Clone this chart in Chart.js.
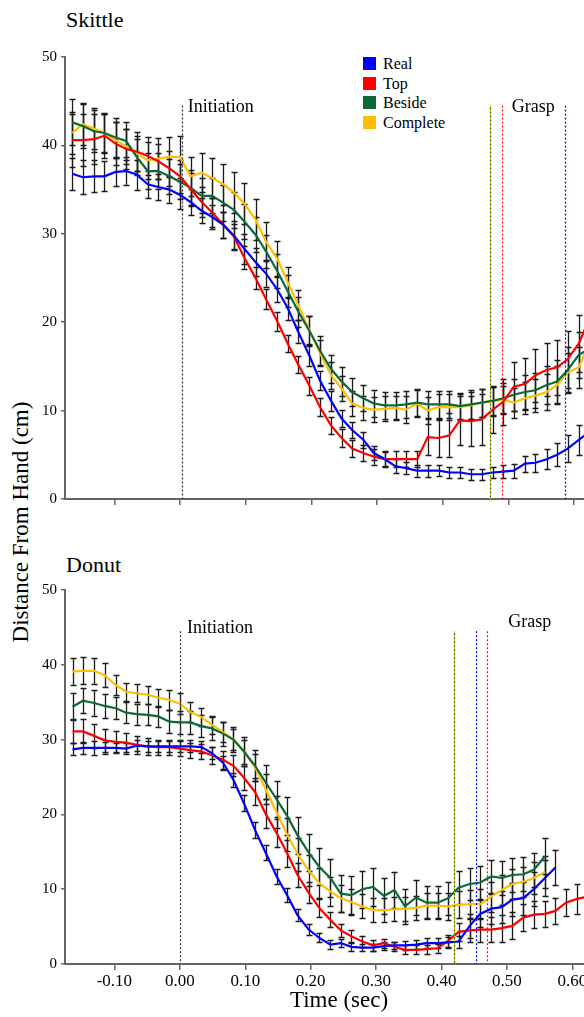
<!DOCTYPE html>
<html>
<head>
<meta charset="utf-8">
<script src="https://cdn.jsdelivr.net/npm/chart.js@4.4.1/dist/chart.umd.min.js"></script>
<style>
  body { margin: 0; width: 584px; height: 1017px; overflow: hidden; background: #fff; position: relative;
         font-family: "Liberation Serif", "Times New Roman", serif; color: #000; }
  canvas { position: absolute; left: 0; }
  .title { position: absolute; left: 66px; font-size: 22px; line-height: 26px; }
  .ylab { position: absolute; left: 21px; top: 522px; font-size: 23px; white-space: nowrap;
          transform: translate(-50%, -50%) rotate(-90deg); }
  #legend { position: absolute; left: 363px; top: 54px; font-size: 16px; line-height: 19.5px; }
  #legend div { display: flex; align-items: center; }
  #legend span { display: inline-block; width: 13px; height: 13px; margin-right: 7px; }
</style>
</head>
<body>
<div class="title" style="top:7px">Skittle</div>
<div class="title" style="top:552px">Donut</div>
<div class="ylab">Distance From Hand (cm)</div>
<div id="legend"></div>
<canvas id="skittle" width="640" height="530" style="top:0"></canvas>
<canvas id="donut" width="640" height="487" style="top:530px"></canvas>
<script>
// time of each frame (sec)
const times = [-0.164, -0.148, -0.131, -0.115, -0.098, -0.082, -0.066, -0.049, -0.033, -0.016,
  0.000, 0.016, 0.033, 0.049, 0.066, 0.082, 0.098, 0.115, 0.131, 0.148,
  0.164, 0.180, 0.197, 0.213, 0.230, 0.246, 0.262, 0.279, 0.295, 0.312,
  0.328, 0.344, 0.361, 0.377, 0.394, 0.410, 0.426, 0.443, 0.459, 0.476,
  0.492, 0.508, 0.525, 0.541, 0.558, 0.574, 0.590, 0.607, 0.623];

const seriesNames = ["Real", "Top", "Beside", "Complete"];
const seriesColors = ["#0000ff", "#ff0000", "#0b6a35", "#ffbf00"];
const xTickValues = [-0.1, 0, 0.1, 0.2, 0.3, 0.4, 0.5, 0.6];
const yTickStep = 10;

// Skittle
const skittleReal = [36.8, 36.4, 36.5, 36.5, 37.0, 37.1, 36.7, 35.6, 35.3, 35.0,
  34.4, 33.6, 32.6, 31.9, 31.0, 29.8, 28.3, 26.8, 25.5, 23.7,
  21.6, 18.9, 16.2, 13.4, 11.1, 9.1, 7.8, 6.7, 5.2, 4.5,
  3.7, 3.5, 3.2, 3.2, 3.2, 3.0, 3.0, 2.8, 2.8, 3.0,
  3.1, 3.2, 4.0, 4.1, 4.5, 5.0, 5.7, 6.7, 7.6];
const skittleTop = [40.6, 40.6, 40.7, 41.1, 40.2, 39.6, 39.3, 38.8, 38.2, 37.4,
  36.5, 35.1, 33.6, 32.4, 31.0, 29.7, 27.3, 25.0, 22.6, 20.1,
  17.6, 15.2, 12.8, 10.4, 8.3, 6.9, 5.7, 5.2, 4.8, 4.5,
  4.5, 4.5, 4.5, 7.0, 6.9, 7.2, 8.9, 8.8, 9.0, 10.1,
  11.0, 12.7, 13.0, 14.0, 14.6, 14.9, 15.8, 17.6, 20.4];
const skittleBeside = [42.6, 42.2, 41.6, 41.4, 40.9, 40.5, 38.7, 37.1, 37.1, 36.5,
  35.9, 35.2, 34.3, 34.3, 33.5, 32.7, 31.4, 29.9, 28.0, 25.8,
  23.5, 21.2, 19.0, 16.8, 14.7, 13.3, 12.1, 11.4, 10.8, 10.6,
  10.6, 10.7, 10.9, 10.7, 10.7, 10.7, 10.5, 10.7, 10.9, 11.1,
  11.4, 11.8, 12.1, 12.3, 12.9, 13.3, 14.6, 16.3, 17.0];
const skittleComplete = [41.4, 42.4, 41.9, 41.4, 40.6, 39.9, 39.1, 38.3, 38.5, 38.7,
  38.7, 36.5, 36.9, 36.3, 35.6, 34.7, 33.4, 31.6, 29.1, 27.2,
  24.5, 21.9, 19.1, 16.5, 14.0, 12.5, 10.8, 10.3, 10.1, 10.2,
  10.3, 10.1, 10.8, 10.0, 10.4, 10.4, 10.4, 10.6, 10.9, 11.1,
  11.2, 10.9, 11.4, 11.7, 12.1, 12.9, 14.3, 14.9, 17.6];

const skittleRealErr = [1.8, 1.9, 1.8, 1.7, 1.6, 1.6, 1.7, 1.5, 1.5, 1.5,
  1.6, 1.5, 1.4, 1.4, 1.5, 1.6, 1.7, 1.6, 1.5, 1.4,
  1.3, 1.3, 1.2, 1.1, 1.1, 1.0, 0.9, 0.9, 0.8, 0.8,
  0.8, 0.7, 0.7, 0.7, 0.6, 0.6, 0.6, 0.6, 0.6, 0.6,
  0.7, 0.8, 0.9, 1.0, 1.1, 1.3, 1.5, 1.7, 1.8];
const skittleTopErr = [3.0, 2.9, 2.8, 2.5, 2.4, 2.3, 2.2, 2.1, 2.0, 2.0,
  1.9, 1.8, 1.7, 1.6, 1.5, 1.4, 1.3, 1.2, 1.1, 1.1,
  1.0, 1.0, 1.0, 1.0, 1.0, 1.0, 1.0, 0.9, 0.9, 0.9,
  0.9, 0.9, 0.9, 2.0, 2.2, 2.5, 2.8, 2.8, 2.9, 2.6,
  2.6, 2.8, 2.9, 3.0, 3.0, 3.1, 3.2, 3.2, 3.3];
const skittleBesideErr = [2.6, 2.5, 2.4, 2.3, 2.2, 2.1, 2.0, 2.0, 2.0, 2.0,
  2.0, 2.0, 2.0, 2.0, 2.0, 2.0, 2.0, 2.0, 1.9, 1.9,
  1.8, 1.7, 1.7, 1.6, 1.6, 1.6, 1.6, 1.5, 1.5, 1.5,
  1.5, 1.5, 1.5, 1.5, 1.5, 1.5, 1.5, 1.6, 1.6, 1.7,
  1.7, 1.8, 1.9, 2.0, 2.2, 2.4, 2.6, 2.6, 2.7];
const skittleCompleteErr = [2.4, 2.4, 2.3, 2.2, 2.0, 2.0, 2.0, 2.1, 2.3, 2.3,
  2.4, 2.2, 2.2, 2.3, 2.3, 2.3, 2.3, 2.3, 2.2, 2.0,
  1.8, 1.7, 1.6, 1.5, 1.5, 1.4, 1.4, 1.4, 1.4, 1.4,
  1.4, 1.5, 1.5, 1.5, 1.5, 1.5, 1.5, 1.5, 1.6, 1.6,
  1.6, 1.7, 1.8, 1.9, 2.0, 2.1, 2.2, 2.3, 2.4];

// Donut
const donutReal = [28.7, 28.9, 28.9, 28.9, 28.9, 28.8, 29.2, 29.1, 29.1, 29.1,
  29.1, 29.1, 29.0, 28.2, 26.9, 24.6, 21.5, 17.9, 14.9, 11.7,
  9.2, 6.5, 4.6, 3.5, 2.6, 2.8, 2.3, 2.2, 2.2, 2.4,
  2.5, 2.5, 2.6, 2.8, 2.8, 2.9, 3.0, 5.1, 6.7, 7.4,
  7.6, 8.6, 8.8, 10.0, 11.5, 12.9, null, null, null];
const donutTop = [31.1, 31.1, 30.5, 29.9, 29.7, 29.6, 29.3, 29.1, 29.0, 29.0,
  28.8, 28.6, 28.4, 27.9, 27.3, 26.5, 24.9, 23.0, 20.1, 17.5,
  14.8, 11.9, 9.5, 7.5, 5.9, 4.5, 3.7, 3.0, 2.5, 2.8,
  2.3, 1.9, 1.9, 2.0, 2.1, 3.1, 4.3, 4.5, 4.6, 4.6,
  4.8, 5.1, 6.2, 6.6, 6.7, 7.1, 8.2, 8.7, 9.0];
const donutBeside = [34.4, 35.2, 34.9, 34.5, 34.2, 33.6, 33.4, 33.3, 33.1, 32.4,
  32.3, 32.3, 31.8, 31.5, 30.8, 30.0, 28.4, 26.5, 24.3, 22.0,
  19.8, 17.2, 14.9, 13.0, 11.5, 9.4, 9.2, 10.0, 10.3, 9.1,
  9.9, 7.7, 8.9, 8.2, 8.2, 8.8, 10.2, 10.7, 10.9, 11.7,
  11.5, 11.9, 12.0, 12.6, 14.4, null, null, null, null];
const donutComplete = [39.1, 39.2, 39.2, 38.6, 37.3, 36.4, 36.2, 36.0, 35.6, 35.3,
  34.8, 33.7, 33.0, 32.0, 31.0, 30.0, 28.4, 26.3, 23.4, 20.3,
  17.3, 14.7, 12.5, 10.8, 9.7, 8.8, 8.3, 7.7, 7.2, 7.2,
  7.3, 7.4, 7.5, 7.8, 7.8, 7.7, 7.9, 8.0, 8.0, 9.0,
  9.9, 10.7, 11.0, 11.5, 12.3, null, null, null, null];

const donutRealErr = [0.8, 0.8, 0.9, 0.8, 0.7, 0.7, 0.7, 0.7, 0.7, 0.7,
  0.8, 0.8, 0.8, 0.8, 0.9, 1.0, 1.1, 1.1, 1.0, 1.0,
  0.9, 0.8, 0.7, 0.6, 0.6, 0.5, 0.5, 0.5, 0.5, 0.5,
  0.5, 0.6, 0.6, 0.7, 0.7, 0.7, 0.8, 1.6, 1.8, 2.0,
  2.1, 2.2, 2.2, 2.3, 2.4, 2.4, null, null, null];
const donutTopErr = [1.6, 1.6, 1.6, 1.5, 1.4, 1.3, 1.2, 1.1, 1.0, 1.0,
  1.0, 1.0, 1.0, 1.1, 1.2, 1.4, 1.6, 1.8, 1.9, 1.9,
  1.8, 1.6, 1.4, 1.2, 1.0, 0.9, 0.8, 0.7, 0.7, 0.6,
  0.6, 0.6, 0.6, 0.6, 0.6, 0.8, 1.2, 1.5, 1.6, 1.7,
  1.8, 1.8, 1.8, 1.8, 1.7, 1.7, 1.8, 2.0, 2.0];
const donutBesideErr = [1.8, 1.7, 1.7, 1.6, 1.5, 1.4, 1.4, 1.4, 1.4, 1.5,
  1.5, 1.5, 1.5, 1.5, 1.6, 1.7, 1.9, 2.1, 2.3, 2.4,
  2.5, 2.5, 2.5, 2.5, 2.5, 2.5, 2.5, 2.5, 2.5, 2.4,
  2.4, 2.3, 2.3, 2.2, 2.2, 2.2, 2.2, 2.2, 2.2, 2.2,
  2.3, 2.3, 2.3, 2.3, 2.4, null, null, null, null];
const donutCompleteErr = [1.8, 1.8, 1.7, 1.6, 1.4, 1.2, 1.2, 1.2, 1.2, 1.3,
  1.4, 1.3, 1.2, 1.2, 1.3, 1.4, 1.6, 1.8, 2.0, 2.1,
  2.2, 2.2, 2.1, 2.0, 1.9, 1.8, 1.7, 1.6, 1.6, 1.6,
  1.6, 1.6, 1.6, 1.7, 1.7, 1.8, 1.8, 1.9, 2.0, 2.0,
  2.0, 2.0, 2.0, 2.1, 2.1, null, null, null, null];

// initiation and grasp times (sec), grasp in series order
const skittleInitiation = 0.003;
const skittleGrasp = [0.586, 0.490, 0.472, 0.472];
const donutInitiation = 0.0;
const donutGrasp = [0.453, 0.470, 0.419, 0.419];

const serif = "'Liberation Serif', 'Times New Roman', serif";

// legend
const legend = document.getElementById('legend');
seriesNames.forEach((name, i) => {
    let row = document.createElement('div');
    row.innerHTML = '<span style="background:' + seriesColors[i] + '"></span>' + name;
    legend.appendChild(row);
});

// error bars under the lines
const errorBars = {
    id: 'errorBars',
    beforeDatasetsDraw(chart) {
        const { ctx, chartArea, scales: { x, y } } = chart;
        ctx.save();
        ctx.beginPath();
        ctx.rect(chartArea.left, chartArea.top, chartArea.width, chartArea.height);
        ctx.clip();
        ctx.strokeStyle = '#1a1a1a';
        ctx.lineWidth = 1.3;
        for (let ds of chart.data.datasets) {
            ds.errors.forEach((e, i) => {
                const p = ds.data[i];
                if (p.y == null || e == null) return;
                const px = Math.round(x.getPixelForValue(p.x)) + 0.5;
                const top = Math.round(y.getPixelForValue(p.y + e)) + 0.5;
                const bot = Math.round(y.getPixelForValue(p.y - e)) + 0.5;
                ctx.beginPath();
                ctx.moveTo(px, top); ctx.lineTo(px, bot);
                ctx.moveTo(px - 3, top); ctx.lineTo(px + 3, top);
                ctx.moveTo(px - 3, bot); ctx.lineTo(px + 3, bot);
                ctx.stroke();
            });
        }
        ctx.restore();
    }
};

function vline(ctx, px, top, bottom, color, offset) {
    ctx.save();
    ctx.strokeStyle = color;
    ctx.lineWidth = 1.2;
    ctx.setLineDash([2, 2]);
    ctx.lineDashOffset = offset || 0;
    ctx.beginPath();
    ctx.moveTo(px, top);
    ctx.lineTo(px, bottom);
    ctx.stroke();
    ctx.restore();
}

// initiation / grasp markers
const markers = {
    id: 'markers',
    afterDatasetsDraw(chart, args, opts) {
        const { ctx, chartArea, scales: { x, y } } = chart;
        const top = y.getPixelForValue(44.5);
        const bottom = chartArea.bottom;
        vline(ctx, Math.round(x.getPixelForValue(opts.initiation)) + 0.5, top, bottom, '#333');
        // draw in reverse so overlapping beside/complete lines mix
        for (let i = opts.grasp.length - 1; i >= 0; i--) {
            const px = Math.round(x.getPixelForValue(opts.grasp[i])) + 0.5;
            vline(ctx, px, top, bottom, seriesColors[i], i === 2 ? 2 : 0);
        }
        ctx.save();
        ctx.fillStyle = '#000';
        ctx.font = '18px ' + serif;
        ctx.textBaseline = 'middle';
        ctx.fillText('Initiation', x.getPixelForValue(opts.initLabel[0]), y.getPixelForValue(opts.initLabel[1]));
        ctx.fillText('Grasp', x.getPixelForValue(opts.graspLabel[0]), y.getPixelForValue(opts.graspLabel[1]));
        ctx.restore();
    }
};

function makeChart(id, values, errors, markerOpts, showLabels, xHeight, padTop, xMin, xMax) {
    const datasets = values.map((vals, i) => ({
        label: seriesNames[i],
        data: vals.map((v, k) => ({ x: times[k], y: v })),
        errors: errors[i],
        borderColor: seriesColors[i],
        borderWidth: 2.2,
        pointRadius: 0,
        tension: 0,
        spanGaps: false
    }));
    return new Chart(document.getElementById(id), {
        type: 'line',
        data: { datasets },
        plugins: [errorBars, markers],
        options: {
            responsive: false,
            animation: false,
            devicePixelRatio: 1,
            layout: { padding: { top: padTop, right: 27, left: 0, bottom: 0 } },
            plugins: {
                legend: { display: false },
                tooltip: { enabled: false },
                markers: markerOpts
            },
            scales: {
                x: {
                    type: 'linear',
                    min: xMin,
                    max: xMax,
                    afterBuildTicks: s => { s.ticks = xTickValues.map(v => ({ value: v })); },
                    afterFit: s => { s.height = xHeight; },
                    grid: { drawOnChartArea: false, tickLength: 6, color: '#666', lineWidth: 1.5 },
                    border: { color: '#666', width: 2 },
                    ticks: {
                        display: showLabels,
                        autoSkip: false,
                        maxRotation: 0,
                        padding: 1,
                        color: '#000',
                        font: { family: serif, size: 17 },
                        callback: v => Number(v).toFixed(2)
                    },
                    title: {
                        display: showLabels,
                        text: 'Time (sec)',
                        color: '#000',
                        font: { family: serif, size: 23 },
                        padding: { top: 0, bottom: 2 }
                    }
                },
                y: {
                    min: 0,
                    max: 50,
                    afterFit: s => { s.width = 65; },
                    grid: { drawOnChartArea: false, tickLength: 4, color: '#666', lineWidth: 1.5 },
                    border: { color: '#666', width: 2 },
                    ticks: {
                        stepSize: yTickStep,
                        padding: 4,
                        color: '#000',
                        font: { family: serif, size: 15 }
                    }
                }
            }
        }
    });
}

makeChart('skittle',
    [skittleReal, skittleTop, skittleBeside, skittleComplete],
    [skittleRealErr, skittleTopErr, skittleBesideErr, skittleCompleteErr],
    { initiation: skittleInitiation, grasp: skittleGrasp, initLabel: [0.012, 44.3], graspLabel: [0.505, 44.3] },
    false, 31, 57, -0.175, 0.659);

makeChart('donut',
    [donutReal, donutTop, donutBeside, donutComplete],
    [donutRealErr, donutTopErr, donutBesideErr, donutCompleteErr],
    { initiation: donutInitiation, grasp: donutGrasp, initLabel: [0.011, 44.9], graspLabel: [0.502, 45.7] },
    true, 53, 60, -0.1755, 0.662);
</script>
</body>
</html>
